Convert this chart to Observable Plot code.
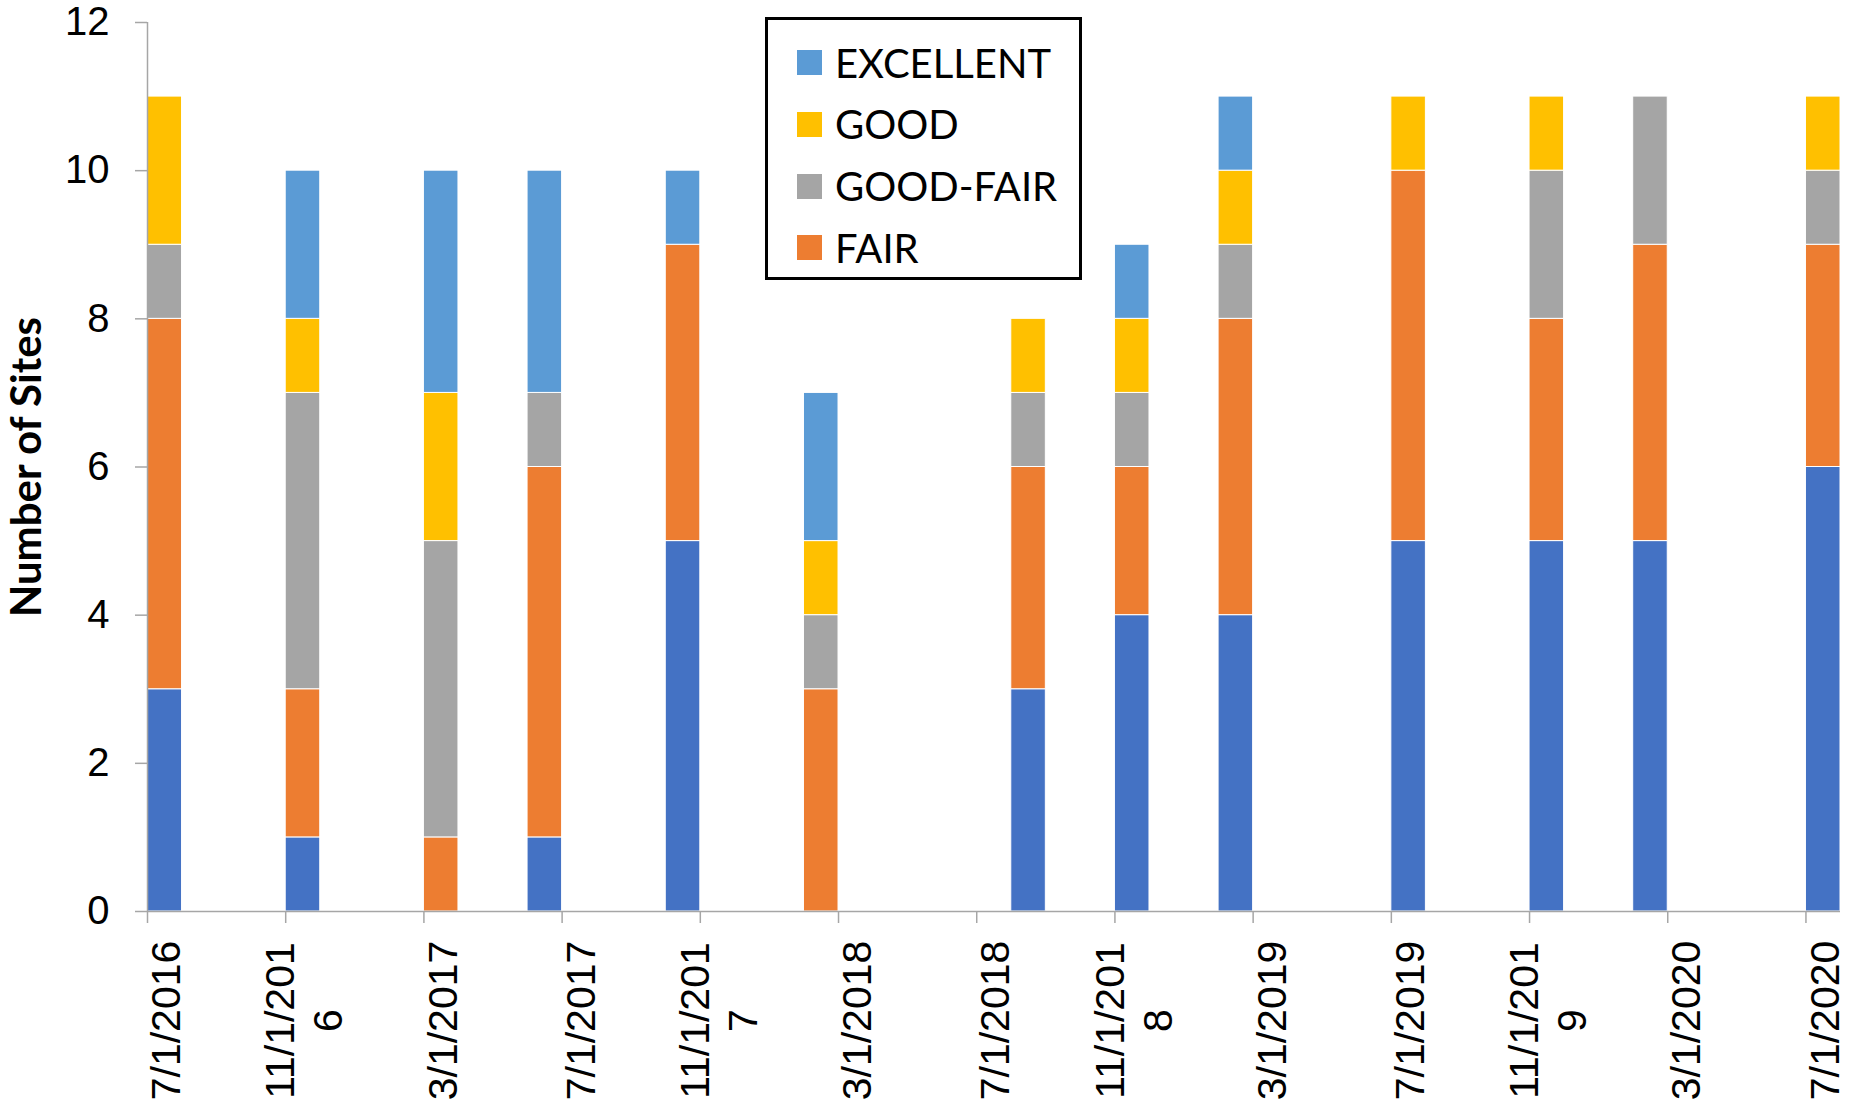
<!DOCTYPE html>
<html>
<head>
<meta charset="utf-8">
<script src="https://cdn.jsdelivr.net/npm/d3@7"></script>
<script src="https://cdn.jsdelivr.net/npm/@observablehq/plot@0.6"></script>
<style>
  body { margin: 0; background: #fff; }
  #chart { position: relative; width: 1850px; height: 1109px; }
  #legend {
    position: absolute; left: 765px; top: 17px; width: 317px; height: 263px;
    box-sizing: border-box; border: 3px solid #000; background: #fff;
    font-family: Lato, "Open Sans", sans-serif; font-size: 40px; color: #000;
  }
  #legend .item { position: absolute; left: 29px; height: 40px; display: flex; align-items: center; white-space: nowrap; }
  #legend .sw { width: 25px; height: 25px; margin-right: 13px; flex: none; }
</style>
</head>
<body>
<div id="chart"><div id="legend"></div></div>
<script>
// Survey dates (first of the month) and site counts per condition class
const sampleDates = ["2016-07", "2016-11", "2017-03", "2017-06", "2017-10", "2018-02", "2018-08",
                     "2018-11", "2019-02", "2019-07", "2019-11", "2020-02", "2020-07"];
const poor      = [3, 1, 0, 1, 5, 0, 3, 4, 4, 5, 5, 5, 6];
const fair      = [5, 2, 1, 5, 4, 3, 3, 2, 4, 5, 3, 4, 3];
const goodFair  = [1, 4, 4, 1, 0, 1, 1, 1, 1, 0, 2, 2, 1];
const good      = [2, 1, 2, 0, 0, 1, 1, 1, 1, 1, 1, 0, 1];
const excellent = [0, 2, 3, 3, 1, 2, 0, 1, 1, 0, 0, 0, 0];

// Stacking order (bottom to top), colours, and legend entries (top to bottom)
const seriesNames  = ["POOR", "FAIR", "GOOD-FAIR", "GOOD", "EXCELLENT"];
const seriesValues = [poor, fair, goodFair, good, excellent];
const seriesColors = ["#4472C4", "#ED7D31", "#A5A5A5", "#FFC000", "#5B9BD5"];
const legendNames  = ["EXCELLENT", "GOOD", "GOOD-FAIR", "FAIR"];

// Axis ticks
const tickLabels = ["7/1/2016", "11/1/2016", "3/1/2017", "7/1/2017", "11/1/2017", "3/1/2018", "7/1/2018",
                    "11/1/2018", "3/1/2019", "7/1/2019", "11/1/2019", "3/1/2020", "7/1/2020"];
const yTicks = [0, 2, 4, 6, 8, 10, 12];

// Monthly slots from July 2016 through July 2020
const monthKey = d3.utcFormat("%Y-%m");
const months = d3.utcMonth.range(new Date(Date.UTC(2016, 6, 1)), new Date(Date.UTC(2020, 7, 1))).map(monthKey);
const tickMonths = months.filter((d, i) => i % 4 === 0);
const labelOf = new Map(tickMonths.map((m, i) => [m, tickLabels[i]]));
// long dates wrap after eight characters
const wrap = s => s.length > 8 ? s.slice(0, 8) + "\n" + s.slice(8) : s;

const rows = [];
seriesNames.forEach((name, s) => {
  sampleDates.forEach((m, i) => {
    const v = seriesValues[s][i];
    if (v > 0) rows.push({month: m, series: name, value: v});
  });
});

const width = 1850, height = 1109;
const marginLeft = 147, marginRight = 10, marginTop = 22, marginBottom = 198;
const bw = (width - marginLeft - marginRight) / months.length;
const axisColor = "#A6A6A6";

const chart = Plot.plot({
  width, height, marginLeft, marginRight, marginTop, marginBottom,
  style: {fontFamily: "'Liberation Sans', Arial, sans-serif", color: "#000", background: "#fff", overflow: "visible"},
  x: {type: "band", domain: months, padding: 0, round: false},
  y: {domain: [0, 12]},
  color: {domain: seriesNames, range: seriesColors},
  marks: [
    Plot.barY(rows, {x: "month", y: "value", fill: "series", order: seriesNames, stroke: "white", strokeWidth: 1}),
    Plot.ruleY([0], {stroke: axisColor, strokeWidth: 1.5}),
    Plot.ruleX([months[0]], {y1: 0, y2: 12, dx: -bw / 2, stroke: axisColor, strokeWidth: 1.5}),
    Plot.axisY({ticks: yTicks, tickSize: 12, tickPadding: 26, fontSize: 40, stroke: axisColor, strokeWidth: 1.5, label: null}),
    // tick marks on the slot boundaries
    Plot.axisX({ticks: tickMonths, tickSize: 12, fill: "none", stroke: axisColor, strokeWidth: 1.5, dx: -bw / 2, label: null}),
    // date labels centred on their month, each line centred along the label
    Plot.text(tickMonths, {x: d => d, text: m => wrap(labelOf.get(m)), frameAnchor: "bottom", rotate: -90,
                dy: 109, textAnchor: "middle", lineAnchor: "middle", fontSize: 41, lineHeight: 1.17, fill: "#000"}),
    Plot.text(["Number of Sites"], {text: d => d, frameAnchor: "left", rotate: -90, dx: -120, textAnchor: "middle",
                fontSize: 42, fontWeight: "bold", fontFamily: "Lato, 'Open Sans', sans-serif", fill: "#000"})
  ]
});
document.getElementById("chart").prepend(chart);

// Legend box
const legend = document.getElementById("legend");
const rowCenters = [42.5, 104, 166, 227.5];
legendNames.forEach((name, i) => {
  const item = document.createElement("div");
  item.className = "item";
  item.style.top = (rowCenters[i] - 20) + "px";
  const sw = document.createElement("div");
  sw.className = "sw";
  sw.style.background = seriesColors[seriesNames.indexOf(name)];
  const label = document.createElement("span");
  label.textContent = name;
  item.append(sw, label);
  legend.append(item);
});
</script>
</body>
</html>
